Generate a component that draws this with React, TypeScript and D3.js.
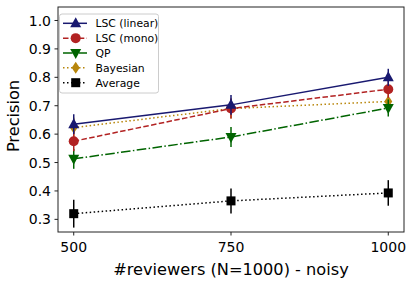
import React from "react";
import * as d3 from "d3";

const reviewers = [500, 750, 1000];
const yTicks = [0.3, 0.4, 0.5, 0.6, 0.7, 0.8, 0.9, 1.0];

const lscLinear = [0.635, 0.703, 0.8];
const lscLinearErr = [0.035, 0.035, 0.03];
const lscMono = [0.575, 0.69, 0.758];
const lscMonoErr = [0.035, 0.035, 0.03];
const qp = [0.513, 0.59, 0.692];
const qpErr = [0.035, 0.035, 0.03];
const bayesian = [0.623, 0.69, 0.715];
const bayesianErr = [0.035, 0.035, 0.03];
const average = [0.32, 0.365, 0.393];
const averageErr = [0.049, 0.044, 0.045];

const W = 415;
const H = 282;
const M = { left: 58, top: 7, right: 404, bottom: 232 };
const FONT = "DejaVu Sans, sans-serif";

type Series = {
  name: string;
  values: number[];
  errs: number[];
  color: string;
  dash: string;
  marker: string;
};

const series: Series[] = [
  { name: "LSC (linear)", values: lscLinear, errs: lscLinearErr, color: "#191970", dash: "", marker: "triUp" },
  { name: "LSC (mono)", values: lscMono, errs: lscMonoErr, color: "#b22222", dash: "5.5,2.4", marker: "circle" },
  { name: "QP", values: qp, errs: qpErr, color: "#006400", dash: "9.6,2.4,1.5,2.4", marker: "triDown" },
  { name: "Bayesian", values: bayesian, errs: bayesianErr, color: "#b8860b", dash: "1.5,2.5", marker: "diamond" },
  { name: "Average", values: average, errs: averageErr, color: "#000000", dash: "1.5,2.5", marker: "square" },
];

function Marker({ type, x, y, color }: { type: string; x: number; y: number; color: string }) {
  const r = 5;
  if (type === "circle") return <circle cx={x} cy={y} r={r} fill={color} />;
  if (type === "square") return <rect x={x - 4.5} y={y - 4.5} width={9} height={9} fill={color} />;
  if (type === "diamond")
    return <path d={`M${x},${y - 6}L${x + 4},${y}L${x},${y + 6}L${x - 4},${y}Z`} fill={color} />;
  if (type === "triUp")
    return <path d={`M${x},${y - 6}L${x + 5.5},${y + 4}L${x - 5.5},${y + 4}Z`} fill={color} />;
  return <path d={`M${x},${y + 6}L${x + 5.5},${y - 4}L${x - 5.5},${y - 4}Z`} fill={color} />;
}

export default function App() {
  const x = d3.scaleLinear().domain([475, 1025]).range([M.left, M.right]);
  const y = d3.scaleLinear().domain([0.2555, 1.0475]).range([M.bottom, M.top]);
  const line = d3
    .line<number>()
    .x((_, i) => x(reviewers[i]))
    .y((d) => y(d));

  return (
    <svg width={W} height={H} style={{ position: "absolute", left: 0, top: 0 }} fontFamily={FONT}>
      <rect x={0} y={0} width={W} height={H} fill="white" />
      {/* series, drawn bottom to top so LSC (linear) ends on top */}
      {[...series].reverse().map((s) => (
        <g key={s.name}>
          <path d={line(s.values) || ""} fill="none" stroke={s.color} strokeWidth={1.5} strokeDasharray={s.dash} />
          {s.values.map((v, i) => (
            <line
              key={i}
              x1={x(reviewers[i])}
              x2={x(reviewers[i])}
              y1={y(v - s.errs[i])}
              y2={y(v + s.errs[i])}
              stroke={s.color}
              strokeWidth={1.5}
            />
          ))}
          {s.values.map((v, i) => (
            <Marker key={i} type={s.marker} x={x(reviewers[i])} y={y(v)} color={s.color} />
          ))}
        </g>
      ))}

      {/* frame */}
      <rect x={M.left} y={M.top} width={M.right - M.left} height={M.bottom - M.top} fill="none" stroke="#222" strokeWidth={1} />

      {/* y axis */}
      {yTicks.map((t) => (
        <g key={t}>
          <line x1={M.left - 3.5} x2={M.left} y1={y(t)} y2={y(t)} stroke="#222" />
          <text x={M.left - 7} y={y(t)} dy="0.36em" textAnchor="end" fontSize={14}>
            {t.toFixed(1)}
          </text>
        </g>
      ))}
      {/* x axis */}
      {reviewers.map((t) => (
        <g key={t}>
          <line x1={x(t)} x2={x(t)} y1={M.bottom} y2={M.bottom + 3.5} stroke="#222" />
          <text x={x(t)} y={252} textAnchor="middle" fontSize={14}>
            {t}
          </text>
        </g>
      ))}
      <text x={231} y={275} textAnchor="middle" fontSize={16.2}>
        #reviewers (N=1000) - noisy
      </text>
      <text transform={`translate(19,116) rotate(-90)`} textAnchor="middle" fontSize={16.2}>
        Precision
      </text>

      {/* legend */}
      <rect x={59.5} y={14} width={99} height={79} rx={2.5} fill="white" fillOpacity={0.8} stroke="#ccc" />
      {series.map((s, i) => {
        const ly = 23.3 + i * 14.85;
        return (
          <g key={s.name}>
            <line x1={63} x2={87} y1={ly} y2={ly} stroke={s.color} strokeWidth={1.5} strokeDasharray={s.dash} />
            <Marker type={s.marker} x={75.7} y={ly} color={s.color} />
            <text x={95.5} y={ly} dy="0.36em" fontSize={10.8}>
              {s.name}
            </text>
          </g>
        );
      })}
    </svg>
  );
}
